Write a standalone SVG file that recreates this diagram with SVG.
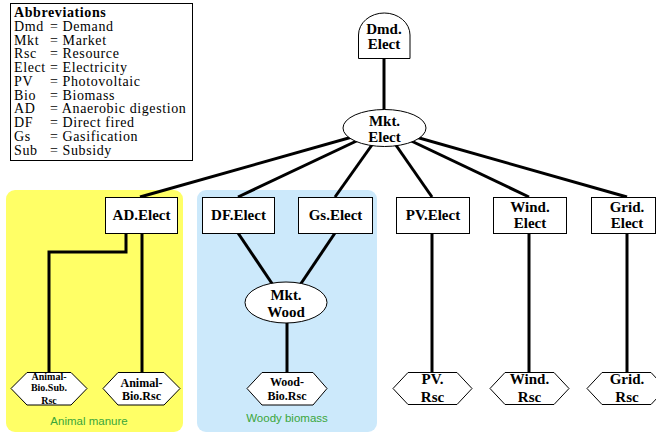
<svg xmlns="http://www.w3.org/2000/svg" width="656" height="432" viewBox="0 0 656 432">
<style>
.leg{font-family:"Liberation Serif",serif;font-size:14px;letter-spacing:0.6px;fill:#000}
.n{font-family:"Liberation Serif",serif;font-weight:bold;font-size:15px;fill:#000;text-anchor:middle}
.s{font-size:12px}
.xs{font-size:10px}
.shape{fill:#fff;stroke:#000;stroke-width:1}
.edge{stroke:#000;stroke-width:3;fill:none}
.grp{font-family:"Liberation Sans",sans-serif;font-size:11.5px;fill:#3aa63a;text-anchor:middle}
</style>
<rect width="656" height="432" fill="#fff"/>
<g id="regions">
<rect x="6" y="190" width="177" height="242" rx="9" fill="#ffff66"/>
<rect x="197" y="190" width="180" height="242" rx="9" fill="#cce9fb"/>
<text class="grp" x="89" y="425">Animal manure</text>
<text class="grp" x="287" y="422">Woody biomass</text>
</g>
<g id="legend">
<rect x="10.5" y="3.5" width="182" height="157" fill="#fff" stroke="#000" stroke-width="1"/>
<text class="leg" x="14" y="17" font-weight="bold">Abbreviations</text>
<text class="leg" x="14" y="30.75">Dmd</text><text class="leg" x="50" y="30.75">= Demand</text>
<text class="leg" x="14" y="44.5">Mkt</text><text class="leg" x="50" y="44.5">= Market</text>
<text class="leg" x="14" y="58.25">Rsc</text><text class="leg" x="50" y="58.25">= Resource</text>
<text class="leg" x="14" y="72">Elect</text><text class="leg" x="50" y="72">= Electricity</text>
<text class="leg" x="14" y="85.75">PV</text><text class="leg" x="50" y="85.75">= Photovoltaic</text>
<text class="leg" x="14" y="99.5">Bio</text><text class="leg" x="50" y="99.5">= Biomass</text>
<text class="leg" x="14" y="113.25">AD</text><text class="leg" x="50" y="113.25">= Anaerobic digestion</text>
<text class="leg" x="14" y="127">DF</text><text class="leg" x="50" y="127">= Direct fired</text>
<text class="leg" x="14" y="140.75">Gs</text><text class="leg" x="50" y="140.75">= Gasification</text>
<text class="leg" x="14" y="154.5">Sub</text><text class="leg" x="50" y="154.5">= Subsidy</text>
</g>
<g id="connectors">
<line class="edge" x1="384" y1="58" x2="384" y2="110"/>
<line class="edge" x1="384" y1="128" x2="140" y2="197"/>
<line class="edge" x1="384" y1="128" x2="238" y2="197"/>
<line class="edge" x1="384" y1="128" x2="335" y2="197"/>
<line class="edge" x1="384" y1="128" x2="432" y2="197"/>
<line class="edge" x1="384" y1="128" x2="529" y2="197"/>
<line class="edge" x1="384" y1="128" x2="627" y2="197"/>
<polyline class="edge" points="126,233 126,252 49,252 49,372"/>
<line class="edge" x1="142" y1="233" x2="142" y2="372"/>
<line class="edge" x1="238" y1="233" x2="273" y2="285"/>
<line class="edge" x1="335" y1="233" x2="300" y2="285"/>
<line class="edge" x1="287" y1="320" x2="287" y2="372"/>
<line class="edge" x1="432" y1="233" x2="432" y2="372"/>
<line class="edge" x1="529" y1="233" x2="529" y2="372"/>
<line class="edge" x1="627" y1="233" x2="627" y2="372"/>
</g>
<g id="dmd_elect">
<path class="shape" d="M358.5,58.5 V35 A25.75,22 0 0 1 410,35 V58.5 Z"/>
<text class="n" x="384" y="34">Dmd.</text>
<text class="n" x="384" y="49">Elect</text>
</g>
<g id="mkt_elect">
<ellipse class="shape" cx="384.5" cy="128" rx="41.5" ry="18.5"/>
<text class="n" x="384.5" y="126">Mkt.</text>
<text class="n" x="384.5" y="142">Elect</text>
</g>
<g id="ad_elect">
<rect class="shape" x="105.5" y="197.5" width="72" height="36"/>
<text class="n" x="141.5" y="220">AD.Elect</text>
</g>
<g id="df_elect">
<rect class="shape" x="202.5" y="197.5" width="72" height="36"/>
<text class="n" x="238.5" y="220">DF.Elect</text>
</g>
<g id="gs_elect">
<rect class="shape" x="298.5" y="197.5" width="74" height="36"/>
<text class="n" x="335.5" y="220">Gs.Elect</text>
</g>
<g id="pv_elect">
<rect class="shape" x="396.5" y="197.5" width="73" height="36"/>
<text class="n" x="433" y="220">PV.Elect</text>
</g>
<g id="wind_elect">
<rect class="shape" x="493.5" y="197.5" width="73" height="36"/>
<text class="n" x="530" y="212">Wind.</text>
<text class="n" x="530" y="228">Elect</text>
</g>
<g id="grid_elect">
<rect class="shape" x="591.5" y="197.5" width="64" height="36"/>
<text class="n" x="627" y="212">Grid.</text>
<text class="n" x="627" y="228">Elect</text>
</g>
<g id="mkt_wood">
<ellipse class="shape" cx="286" cy="302.5" rx="41" ry="20.5"/>
<text class="n" x="286" y="300">Mkt.</text>
<text class="n" x="286" y="317">Wood</text>
</g>
<g id="animal_bio_sub_rsc">
<polygon class="shape" points="11,388.5 27,372.5 71,372.5 87,388.5 71,405 27,405"/>
<text class="n xs" x="49" y="380">Animal-</text>
<text class="n xs" x="49" y="391">Bio.Sub.</text>
<text class="n xs" x="49" y="404">Rsc</text>
</g>
<g id="animal_bio_rsc">
<polygon class="shape" points="103,388.5 118,372.5 164,372.5 180,388.5 164,405 118,405"/>
<text class="n s" x="141.5" y="387">Animal-</text>
<text class="n s" x="141.5" y="400">Bio.Rsc</text>
</g>
<g id="wood_bio_rsc">
<polygon class="shape" points="247,388.5 262,372.5 313,372.5 327,388.5 313,405 262,405"/>
<text class="n s" x="287" y="386">Wood-</text>
<text class="n s" x="287" y="400">Bio.Rsc</text>
</g>
<g id="pv_rsc">
<polygon class="shape" points="393,388.5 408,372.5 457,372.5 472,388.5 457,404.5 408,404.5"/>
<text class="n" x="432.5" y="384">PV.</text>
<text class="n" x="432.5" y="402">Rsc</text>
</g>
<g id="wind_rsc">
<polygon class="shape" points="490,388.5 505,372.5 554,372.5 569,388.5 554,404.5 505,404.5"/>
<text class="n" x="529.5" y="384">Wind.</text>
<text class="n" x="529.5" y="402">Rsc</text>
</g>
<g id="grid_rsc">
<polygon class="shape" points="587,388.5 602,372.5 651,372.5 666,388.5 651,404.5 602,404.5"/>
<text class="n" x="627" y="384">Grid.</text>
<text class="n" x="627" y="402">Rsc</text>
</g>
</svg>
